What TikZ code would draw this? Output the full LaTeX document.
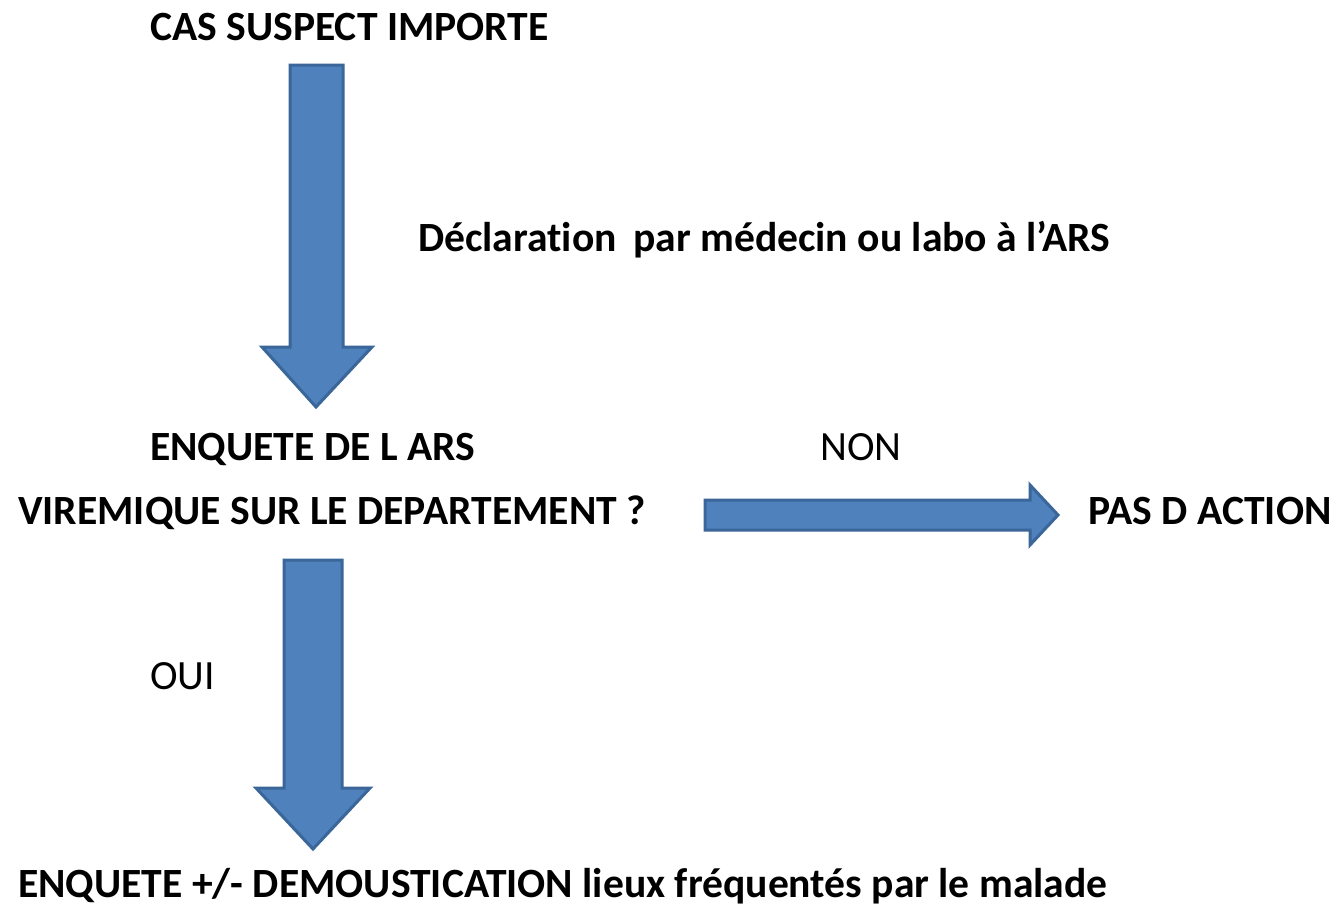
\documentclass[tikz,border=0pt]{standalone}
\usepackage{fontspec}
\setmainfont[Ligatures={NoCommon}]{Carlito}
\definecolor{arrowfill}{HTML}{4F81BD}
\definecolor{arrowline}{HTML}{3A6699}
\begin{document}
\begin{tikzpicture}[x=1pt,y=-1pt,
  blockarrow/.style={fill=arrowfill,draw=arrowline,line width=3pt,line join=miter},
  lbl/.style={anchor=base west,inner sep=0pt,font=\fontsize{41.6}{48}\selectfont\bfseries},
  lblthin/.style={anchor=base west,inner sep=0pt,font=\fontsize{41.6}{48}\selectfont}]
\useasboundingbox[fill=white] (0,0) rectangle (1335,906);
% texts
\node[lbl] (cas) at (150,40) {CAS SUSPECT IMPORTE};
\node[lbl] (decl) at (418,251) {Déclaration\, par médecin ou labo à l’ARS};
\node[lbl] (enq) at (150,460) {ENQUETE DE L ARS};
\node[lblthin] (non) at (820,460) {NON};
\node[lbl] (vir) at (18,524) {VIREMIQUE SUR LE DEPARTEMENT ?};
\node[lbl] (pas) at (1088,524) {PAS D ACTION};
\node[lblthin] (oui) at (150,689) {OUI};
\node[lbl] (dem) at (18,897) {ENQUETE +/- DEMOUSTICATION lieux fréquentés par le malade};
% arrow 1
\draw[blockarrow] (290,65) -- (343,65) -- (343,347) -- (372,347) -- (316,407) -- (262,347) -- (290,347) -- cycle;
% arrow 2
\draw[blockarrow] (705,500) -- (1030,500) -- (1030,485) -- (1058,515) -- (1030,545) -- (1030,530) -- (705,530) -- cycle;
% arrow 3
\draw[blockarrow] (284,560) -- (342,560) -- (342,788) -- (370,788) -- (313,849) -- (256,788) -- (284,788) -- cycle;
\end{tikzpicture}
\end{document}
